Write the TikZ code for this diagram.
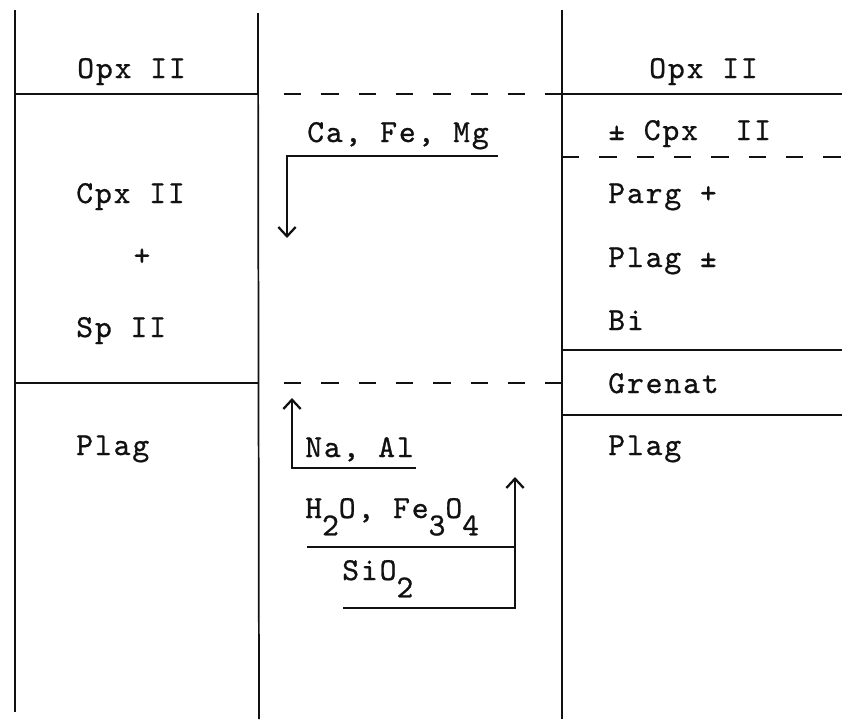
\documentclass[tikz,border=0pt]{standalone}
\usepackage{fontspec}
\newfontfamily\typeface{lmmono10-regular.otf}[LetterSpace=6,FakeBold=0.8]
\usetikzlibrary{arrows.meta,positioning}
\definecolor{Ink}{HTML}{111111}
\newcommand{\dropchar}[1]{\raisebox{-13pt}{#1}}

\begin{document}
\begin{tikzpicture}[x=0.75pt,y=-0.75pt,
    rule/.style={draw=Ink,line width=1.3pt},
    split/.style={rule,dash pattern=on 13pt off 15pt},
    flux/.style={draw=Ink,line width=1.7pt,-{Straight Barb[length=7pt,width=13pt]}},
    mineral/.style={font=\typeface\fontsize{24}{28}\selectfont,
      text=Ink,inner sep=0pt,anchor=base west}
  ]
    \useasboundingbox (0,0) rectangle (842,719);

    % columns
    \draw[rule] (15,10) -- (15,712);
    \draw[rule] (258,13) -- (259,719);
    \draw[rule] (562,10) -- (562,719);

    % left column
    \draw[rule] (15,94) -- (258,94);
    \draw[rule] (15,383) -- (258,383);
    \node[mineral] (lopx) at (77,78) {Opx II};
    \node[mineral] (lcpx) at (76,203) {Cpx II};
    \node[mineral,anchor=center] (lplus) at (142,257) {+};
    \node[mineral] (lsp) at (76,337) {Sp II};
    \node[mineral] (lplag) at (76,455) {Plag};

    % middle column
    \draw[split] (284,94) -- (562,94);
    \draw[split] (284,383) -- (562,383);
    \node[mineral] (cfm) at (307,142) {Ca, Fe, Mg};
    \coordinate (cfmEnd) at (498,156);
    \coordinate (cfmCorner) at (287,156);
    \coordinate (cfmTip) at (287,238);
    \draw[flux] (cfmEnd) -- (cfmCorner) -- (cfmTip);

    \node[mineral] (naal) at (305,457) {Na, Al};
    \coordinate (naalEnd) at (416,468);
    \coordinate (naalCorner) at (292,468);
    \coordinate (naalTip) at (292,398);
    \draw[flux] (naalEnd) -- (naalCorner) -- (naalTip);

    \node[mineral] (water) at (305,518) {H\dropchar{2}O, Fe\dropchar{3}O\dropchar{4}};
    \node[mineral] (silica) at (342,580) {SiO\dropchar{2}};
    \coordinate (waterStart) at (307,547);
    \coordinate (silicaStart) at (343,608);
    \coordinate (riseFoot) at (515,608);
    \coordinate (riseTip) at (515,477);
    \draw[draw=Ink,line width=1.5pt] (waterStart) -- (riseFoot |- waterStart);
    \draw[flux] (silicaStart) -- (riseFoot) -- (riseTip);

    % right column
    \draw[rule] (555,94) -- (842,94);
    \draw[split] (562,157) -- (842,157);
    \draw[rule] (562,350) -- (842,350);
    \draw[rule] (562,415) -- (842,415);
    \node[mineral] (ropx) at (649,78) {Opx II};
    \node[mineral] (rcpx) at (608,140) {±~Cpx~~II};
    \node[mineral] (rparg) at (608,203) {Parg +};
    \node[mineral] (rplag) at (608,267) {Plag ±};
    \node[mineral] (rbi) at (608,330) {Bi};
    \node[mineral] (rgrenat) at (608,393) {Grenat};
    \node[mineral] (rplagb) at (608,455) {Plag};
  \end{tikzpicture}
\end{document}
